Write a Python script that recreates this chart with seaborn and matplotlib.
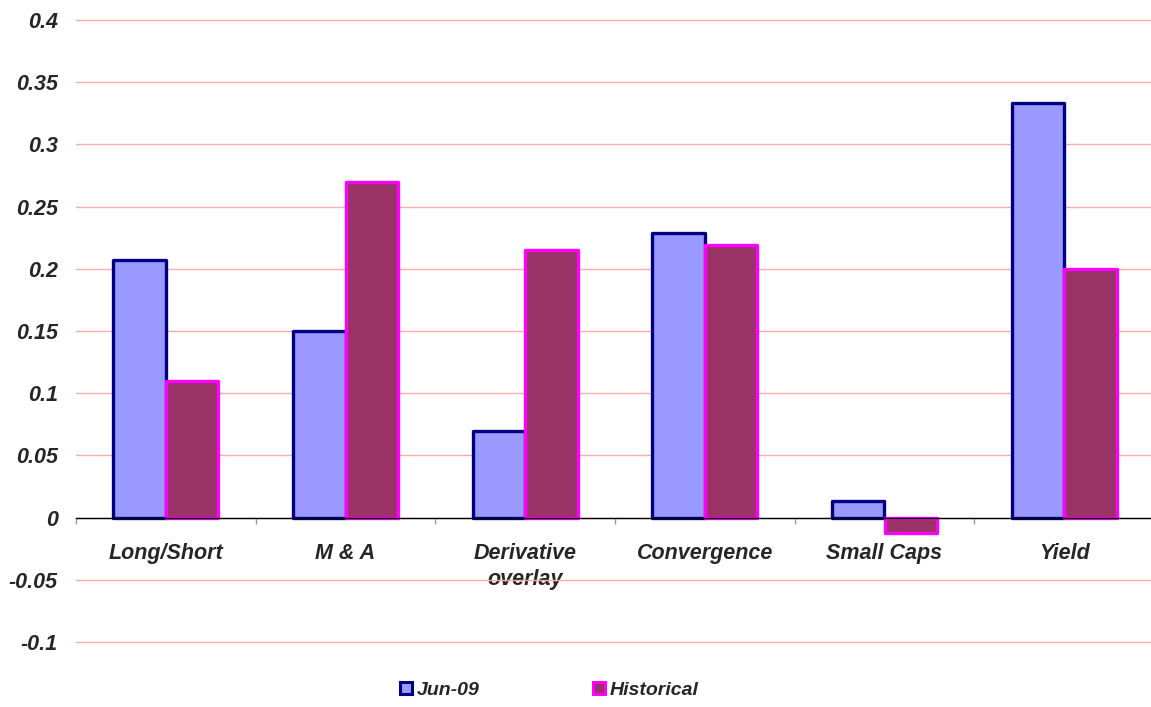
import matplotlib
matplotlib.use("Agg")
import matplotlib.pyplot as plt
import seaborn as sns
import pandas as pd
from matplotlib.lines import Line2D
from matplotlib.ticker import FixedLocator

categories = ["Long/Short", "M & A", "Derivative\noverlay", "Convergence", "Small Caps", "Yield"]
jun09 = [0.207, 0.150, 0.070, 0.229, 0.013, 0.333]
historical = [0.110, 0.270, 0.215, 0.219, -0.012, 0.200]
series_names = ["Jun-09", "Historical"]
yticks = [-0.1, -0.05, 0, 0.05, 0.1, 0.15, 0.2, 0.25, 0.3, 0.35, 0.4]
ytick_labels = ["-0.1", "-0.05", "0", "0.05", "0.1", "0.15", "0.2", "0.25", "0.3", "0.35", "0.4"]

fills = ["#9999FF", "#993366"]
edges = ["#000080", "#FF00FF"]

df = pd.DataFrame({
    "category": categories * 2,
    "value": jun09 + historical,
    "series": [series_names[0]] * len(categories) + [series_names[1]] * len(categories),
})

sns.set_theme(style="white")
plt.rcParams["font.family"] = ["Liberation Sans", "DejaVu Sans"]

FS = 15.5
LFS = 14

fig = plt.figure(figsize=(11.51, 7.07), dpi=100)
ax = fig.add_axes([76 / 1151, 1 - 642 / 707, (1154 - 76) / 1151, (642 - 20) / 707])

sns.barplot(data=df, x="category", y="value", hue="series", palette=fills,
            saturation=1, width=0.585, gap=0, ax=ax, legend=False, zorder=3)

for cont, ec in zip(ax.containers, edges):
    for bar in cont:
        bar.set_edgecolor(ec)
        bar.set_linewidth(2.4)
        bar.set_joinstyle("round")

ax.set_xlim(-0.5, 5.5)
ax.set_ylim(-0.1, 0.4)
ax.set_yticks(yticks)
ax.set_yticklabels(ytick_labels, fontsize=FS, fontweight="bold", fontstyle="italic")
ax.tick_params(axis="y", length=0, pad=13)

ax.yaxis.grid(True, color="#FFAAAA", linewidth=1.0, zorder=0)
for gl in ax.get_ygridlines():
    gl.set_clip_on(False)
ax.xaxis.grid(False)
ax.set_axisbelow(True)

for s in ["top", "right", "left"]:
    ax.spines[s].set_visible(False)
ax.spines["bottom"].set_position(("data", 0))
ax.spines["bottom"].set_color("black")
ax.spines["bottom"].set_linewidth(1.0)
ax.spines["bottom"].set_zorder(4)

ax.set_xticks(range(len(categories)))
ax.set_xticklabels(categories, fontsize=FS, fontweight="bold", fontstyle="italic", linespacing=1.32)
ax.xaxis.set_minor_locator(FixedLocator([i - 0.5 for i in range(len(categories) + 1)]))
ax.tick_params(axis="x", which="major", length=0, pad=18)
ax.tick_params(axis="x", which="minor", length=4, width=1, color="#999999", direction="out", bottom=True)
ax.set_xlabel("")
ax.set_ylabel("")

handles = [
    Line2D([], [], marker="s", linestyle="none", markersize=8.5,
           markerfacecolor=fills[i], markeredgecolor=edges[i], markeredgewidth=2.2)
    for i in range(2)
]
leg = fig.legend(handles, series_names, loc="center", bbox_to_anchor=(0.4768, 1 - 690 / 707),
                 ncol=2, frameon=False, handlelength=0.7, handletextpad=0.2,
                 columnspacing=5.8, prop={"size": LFS, "weight": "bold", "style": "italic"})

fig.savefig("out.png", dpi=100)
